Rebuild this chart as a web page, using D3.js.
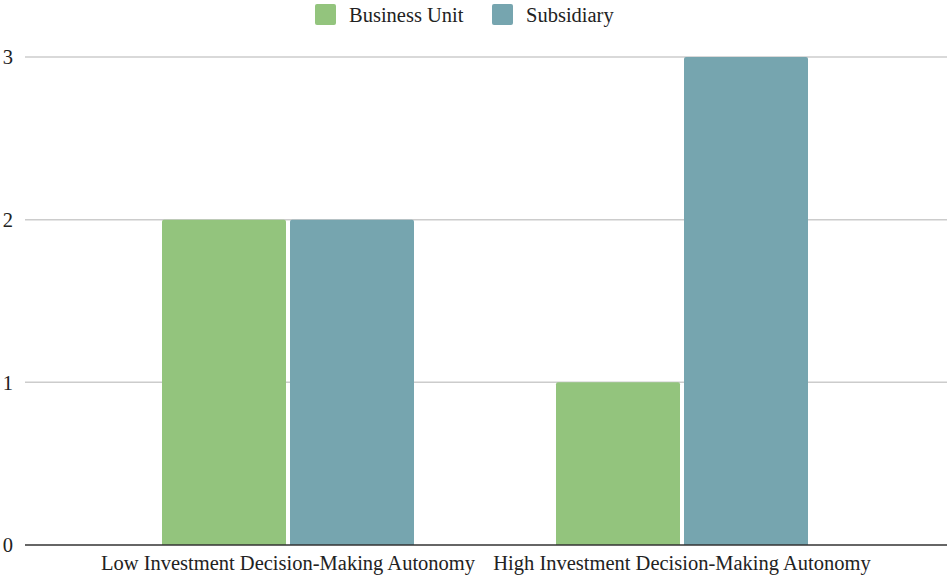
<!DOCTYPE html>
<html>
<head>
<meta charset="utf-8">
<script src="https://cdn.jsdelivr.net/npm/d3@7"></script>
<style>
  body { margin: 0; background: #fff; }
  text { font-family: "Liberation Serif", "Times New Roman", serif; fill: #222; }
</style>
</head>
<body>
<div class="chart"></div>
<script>
var svgWidth = 947;
var svgHeight = 576;

// chart values
var categories = ["Low Investment Decision-Making Autonomy", "High Investment Decision-Making Autonomy"];
var seriesNames = ["Business Unit", "Subsidiary"];
var businessUnit = [2, 1];
var subsidiary = [2, 3];
var yTicks = [0, 1, 2, 3];
var colors = ["#93c47d", "#76a5af"];

var margin = { top: 57, right: 0, bottom: 31, left: 25 };
var fontSize = "20.5px";

var svg = d3.select(".chart")
  .append("svg")
  .attr("width", svgWidth)
  .attr("height", svgHeight);

var x = d3.scaleBand()
  .domain(categories)
  .range([91, 879])
  .padding(0);

var xSeries = d3.scaleBand()
  .domain(seriesNames)
  .range([71, 323])
  .paddingInner(0.03125);

var y = d3.scaleLinear()
  .domain([0, 3])
  .range([svgHeight - margin.bottom, margin.top]);

// gridlines
svg.append("g")
  .selectAll("line")
  .data(yTicks.filter(d => d > 0))
  .enter()
  .append("line")
  .attr("x1", margin.left)
  .attr("x2", svgWidth)
  .attr("y1", d => y(d))
  .attr("y2", d => y(d))
  .attr("stroke", "#cccccc")
  .attr("stroke-width", 1.5);

// y labels
svg.append("g")
  .selectAll("text")
  .data(yTicks)
  .enter()
  .append("text")
  .attr("x", 13)
  .attr("y", d => y(d))
  .attr("dy", "0.35em")
  .attr("text-anchor", "end")
  .style("font-size", fontSize)
  .text(d => d);

// bars
var rows = categories.map((c, i) => ({ cat: c, values: [businessUnit[i], subsidiary[i]] }));

var groups = svg.append("g")
  .selectAll("g")
  .data(rows)
  .enter()
  .append("g")
  .attr("transform", d => `translate(${x(d.cat)},0)`);

groups.selectAll("path")
  .data(d => d.values.map((v, i) => ({ name: seriesNames[i], value: v, i: i })))
  .enter()
  .append("path")
  .attr("fill", d => colors[d.i])
  .attr("d", function (d) {
    var x0 = xSeries(d.name), w = xSeries.bandwidth();
    var top = y(d.value), bot = y(0), r = 2;
    return `M${x0},${bot}V${top + r}Q${x0},${top} ${x0 + r},${top}H${x0 + w - r}Q${x0 + w},${top} ${x0 + w},${top + r}V${bot}Z`;
  });

// baseline
svg.append("line")
  .attr("x1", margin.left)
  .attr("x2", svgWidth)
  .attr("y1", y(0))
  .attr("y2", y(0))
  .attr("stroke", "#333333")
  .attr("stroke-width", 1.5);

// x labels
svg.append("g")
  .selectAll("text")
  .data(categories)
  .enter()
  .append("text")
  .attr("x", d => x(d) + x.bandwidth() / 2)
  .attr("y", 563)
  .attr("dy", "0.35em")
  .attr("text-anchor", "middle")
  .style("font-size", fontSize)
  .text(d => d);

// legend
var legendX = [315, 492];
var legend = svg.append("g")
  .selectAll("g")
  .data(seriesNames)
  .enter()
  .append("g")
  .attr("transform", (d, i) => `translate(${legendX[i]}, 4)`);

legend.append("rect")
  .attr("width", 21)
  .attr("height", 21)
  .attr("rx", 2)
  .attr("fill", (d, i) => colors[i]);

legend.append("text")
  .attr("x", 34)
  .attr("y", 11)
  .attr("dy", "0.35em")
  .style("font-size", fontSize)
  .text(d => d);
</script>
</body>
</html>
